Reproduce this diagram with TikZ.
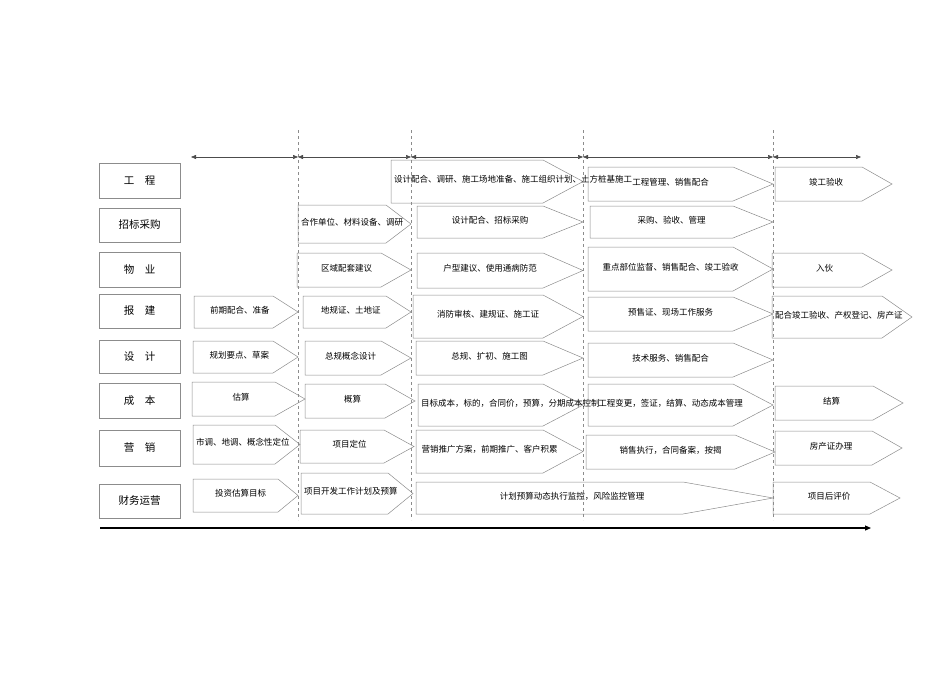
\documentclass[tikz,border=0pt]{standalone}
\usepackage{fontspec}
\setmainfont{Noto Sans CJK SC}
\usetikzlibrary{arrows.meta}
\tikzset{box/.style={draw=black!45,line width=0.5pt},
 lbl/.style={font=\fontsize{8.5}{10}\selectfont,align=center,inner sep=1pt},
 rowlbl/.style={font=\fontsize{10.5}{12}\selectfont},
 vline/.style={draw=black!45,dashed,line width=0.5pt},
 topar/.style={draw=black!70,line width=0.5pt,{Triangle[length=5pt,width=4pt]}-{Triangle[length=5pt,width=4pt]}}}
% #1 name, #2 x1, #3 y1, #4 xtip, #5 y2, #6 text, #7 tip length
\newcommand{\harr}[7]{%
 \draw[box] (#2,#3)--({#4-#7},#3)--(#4,{(#3+#5)/2})--({#4-#7},#5)--(#2,#5)--cycle;
 \node[lbl,text width={(#4-#2-#7/2-6)*1pt}] (#1) at ({(#2+#4-#7/2)/2},{(#3+#5)/2-2}) {#6};}
\begin{document}
\begin{tikzpicture}[x=1pt,y=-1pt]
\useasboundingbox (0,0) rectangle (950,672);
% dashed verticals
\foreach \xx in {298,411,583,773}{\draw[vline] (\xx,130)--(\xx,520);}
% top arrows
\coordinate (t0) at (191,157);\coordinate (t1) at (298,157);\coordinate (t2) at (411,157);
\coordinate (t3) at (583,157);\coordinate (t4) at (773,157);\coordinate (t5) at (861,157);
\draw[topar] (t0)--(t1);\draw[topar] (t1)--(t2);\draw[topar] (t2)--(t3);\draw[topar] (t3)--(t4);
\draw[draw=black!70,line width=0.5pt,{Triangle[length=5pt,width=4pt]}-{Triangle[length=5pt,width=4pt]}] (t4)--(t5);
% axis
\coordinate (a0) at (100,528);\coordinate (a1) at (871,528);
\draw[line width=1.2pt,-{Triangle[length=6pt,width=5pt]}] (a0)--(a1);
% row labels
\foreach \nm/\ya/\yb/\tx in {r1/163/198/{工\quad 程},r2/208/242/{招标采购},r3/252/287/{物\quad 业},r4/294/328/{报\quad 建},r5/340/373/{设\quad 计},r6/383/418/{成\quad 本},r7/430/466/{营\quad 销},r8/484/518/{财务运营}}{
 \draw[box] (99,\ya) rectangle (180,\yb);
 \node[rowlbl] (\nm) at (139.5,{(\ya+\yb)/2}) {\tx};}
% row 1
\harr{a1}{391}{160}{583}{203}{设计配合、调研、施工场地准备、施工组织计划、土方桩基施工}{40}
\harr{a2}{588}{167}{773}{201}{工程管理、销售配合}{40}
\harr{a3}{775}{167}{892}{201}{竣工验收}{30}
% row 2
\harr{b1}{298}{205}{411}{243}{合作单位、材料设备、调研}{25}
\harr{b2}{417}{206}{583}{238}{设计配合、招标采购}{40}
\harr{b3}{590}{206}{773}{238}{采购、验收、管理}{40}
% row 3
\harr{c1}{297}{253}{411}{287}{区域配套建议}{30}
\harr{c2}{417}{253}{583}{288}{户型建议、使用通病防范}{40}
\harr{c3}{588}{247}{773}{291}{重点部位监督、销售配合、竣工验收}{40}
\harr{c4}{772}{253}{892}{287}{入伙}{30}
% row 4
\harr{d1}{194}{296}{298}{328}{前期配合、准备}{25}
\harr{d2}{303}{296}{411}{328}{地规证、土地证}{25}
\harr{d3}{413}{295}{583}{338}{消防审核、建规证、施工证\\[10pt]}{40}
\harr{d4}{588}{297}{773}{331}{预售证、现场工作服务}{40}
\harr{d5}{772}{296}{912}{338}{\raggedright 配合竣工验收、产权登记、房产证}{30}
% row 5
\harr{e1}{193}{341}{298}{373}{规划要点、草案}{25}
\harr{e2}{305}{341}{411}{375}{总规概念设计}{30}
\harr{e3}{416}{341}{583}{375}{总规、扩初、施工图}{40}
\harr{e4}{588}{343}{773}{377}{技术服务、销售配合}{40}
% row 6
\harr{f1}{192}{382}{305}{416}{估算}{30}
\harr{f2}{305}{384}{415}{418}{概算}{30}
\harr{f3}{418}{384}{583}{426}{目标成本，标的，合同价，预算，分期成本控制}{40}
\harr{f4}{588}{384}{773}{426}{工程变更，签证，结算、动态成本管理}{40}
\harr{f5}{775}{386}{903}{420}{结算}{30}
% row 7
\harr{g1}{193}{425}{300}{464}{市调、地调、概念性定位}{25}
\harr{g2}{300}{430}{414}{463}{项目定位}{30}
\harr{g3}{416}{430}{583}{473}{营销推广方案，前期推广、客户积累}{40}
\harr{g4}{586}{435}{775}{469}{销售执行，合同备案，按揭}{40}
\harr{g5}{775}{431}{902}{465}{房产证办理}{30}
% row 8
\harr{h1}{193}{479}{298}{512}{投资估算目标}{20}
\harr{h2}{301}{473}{413}{514}{项目开发工作计划及预算}{25}
\harr{h3}{416}{482}{773}{514}{计划预算动态执行监控，风险监控管理}{90}
\harr{h4}{773}{482}{900}{514}{项目后评价}{30}
\end{tikzpicture}
\end{document}
